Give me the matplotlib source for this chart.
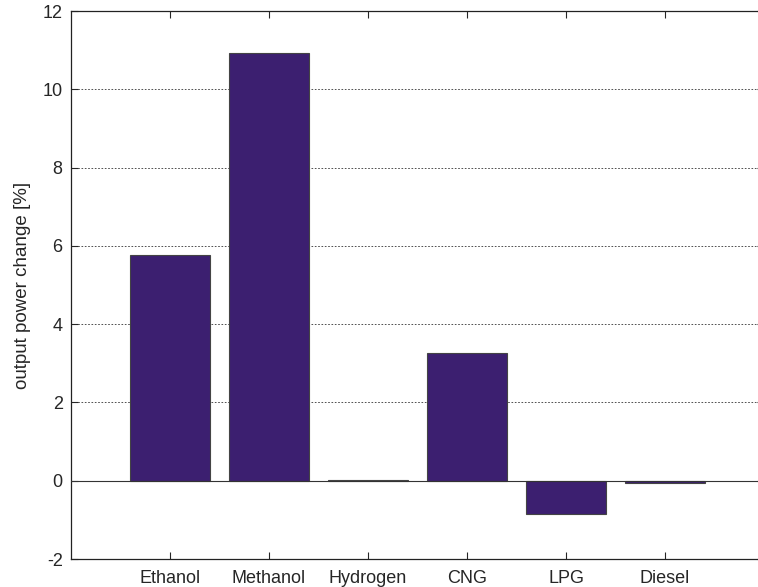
"""Bar chart of output power change per fuel."""

import matplotlib

matplotlib.use("Agg")
import matplotlib.pyplot as plt

fuels = ["Ethanol", "Methanol", "Hydrogen", "CNG", "LPG", "Diesel"]
power_change = [5.76, 10.93, 0.02, 3.27, -0.85, -0.07]
y_ticks = [-2, 0, 2, 4, 6, 8, 10, 12]

plt.rcParams["font.family"] = ["Liberation Sans", "DejaVu Sans"]
plt.rcParams["axes.unicode_minus"] = False

W, H = 758, 587
fig = plt.figure(figsize=(W / 100, H / 100), dpi=100)
# axes runs past the right edge of the figure on purpose
ax = fig.add_axes([71 / W, 1 - 559 / H, 693 / W, 548 / H])

positions = list(range(1, len(fuels) + 1))
ax.bar(positions, power_change, width=0.8, color="#3c1f70",
       edgecolor="#444444", linewidth=0.8, zorder=3)
ax.axhline(0, color="#333333", linewidth=0.8, zorder=4)

ax.set_xlim(0, 7)
ax.set_ylim(-2, 12)
ax.set_xticks(positions)
ax.set_xticklabels(fuels)
ax.set_yticks(y_ticks)
ax.yaxis.grid(True, linestyle=(0, (2, 2)), color="#333333", linewidth=0.6, zorder=1)
ax.tick_params(direction="in", length=5, top=True, right=True,
               labelsize=13, colors="#262626", width=0.8)
ax.tick_params(axis="x", pad=8)
ax.tick_params(axis="y", pad=6)
for spine in ax.spines.values():
    spine.set_color("#222222")
    spine.set_linewidth(0.9)

ax.set_ylabel("output power change [%]", fontsize=13.5, color="#262626", labelpad=8)

fig.savefig("out.png", dpi=100)
